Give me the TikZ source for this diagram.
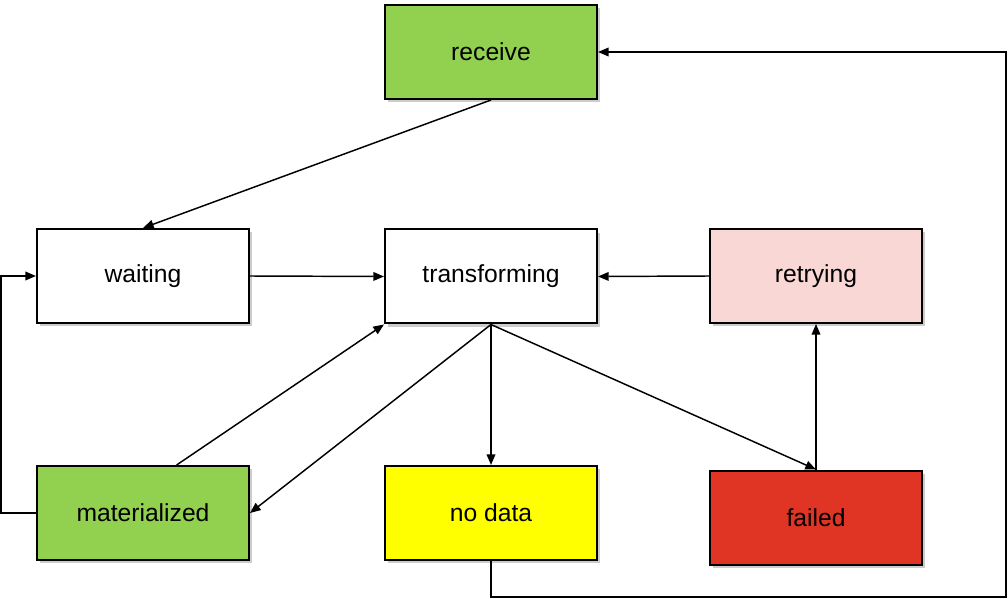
\documentclass[tikz,border=0pt]{standalone}
\usepackage{fontspec}
\setmainfont{Liberation Sans}
\usetikzlibrary{arrows.meta,shadows}
\definecolor{okgreen}{RGB}{146,208,80}
\definecolor{softpink}{RGB}{248,215,213}
\definecolor{nodatayellow}{RGB}{255,255,0}
\definecolor{failred}{RGB}{224,52,36}
\tikzset{
	statebox/.style={draw,line width=1.5pt,minimum width=159pt,minimum height=70.5pt,inner sep=0pt,
		font=\fontsize{18.5}{22}\selectfont,
		drop shadow={shadow xshift=2.5pt,shadow yshift=-2.5pt,opacity=0.4,fill=gray}},
}
\begin{document}
\begin{tikzpicture}[x=0.75pt,y=-0.75pt,>={Triangle[length=8pt,width=6.5pt]},line width=1.1pt]
		
		\useasboundingbox (0,0) rectangle (1008,599);
		% Các trạng thái
		\node[statebox,fill=okgreen] (receive) at (491,52) {receive};
		\node[statebox,fill=white] (waiting) at (143,276) {waiting};
		\node[statebox,fill=white] (transforming) at (491,276.5) {transforming};
		\node[statebox,fill=softpink] (retrying) at (816,276) {retrying};
		\node[statebox,fill=okgreen] (materialized) at (143,513) {materialized};
		\node[statebox,fill=nodatayellow] (nodata) at (491,513) {no data};
		\node[statebox,fill=failred] (failed) at (816,517.5) {failed};
		\coordinate (corner) at (1006,597);
		% Các mũi tên
		\draw[->] (receive.south) -- (waiting.north);
		\draw[->] (waiting.east) -- (transforming.west);
		\draw[->] (retrying.west) -- (transforming.east);
		\draw[->] (materialized.55) -- (transforming.south west);
		\draw[->] (transforming.south) -- (materialized.east);
		\draw[->] (transforming.south) -- (nodata.north);
		\draw[->] (transforming.south) -- (failed.north);
		\draw[->] (failed.north) -- (retrying.south);
		\draw[->] (nodata.south) |- (corner) |- (receive.east); % Vòng về receive
		\draw[->] (materialized.west) -- ++(-35,0) |- (waiting.west); % Vòng về waiting
\end{tikzpicture}
\end{document}
